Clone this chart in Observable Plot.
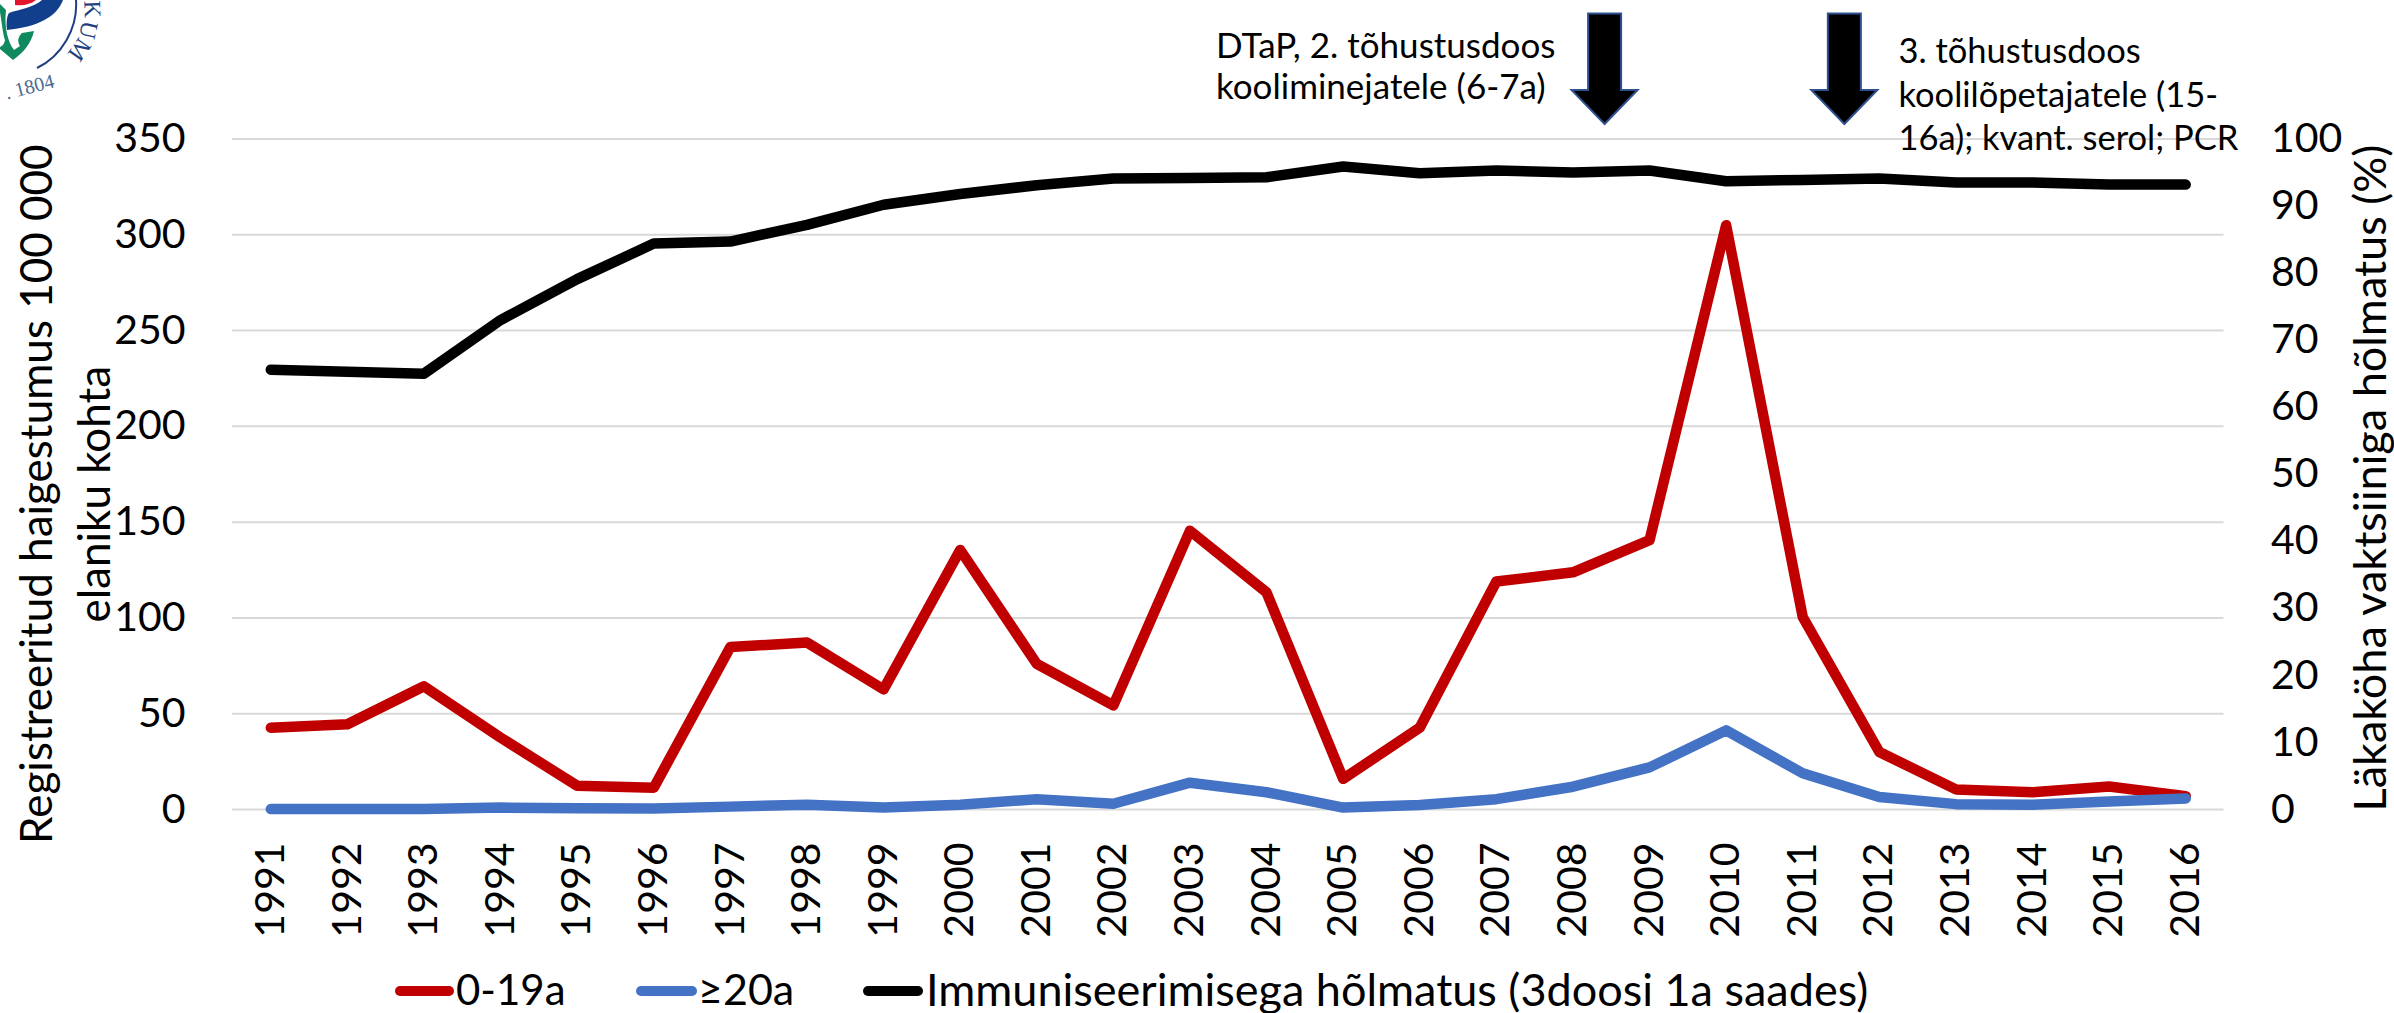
<!DOCTYPE html>
<html lang="et">
<head>
<meta charset="utf-8">
<title>Läkaköha haigestumus ja vaktsineerimine</title>
<script src="https://cdn.jsdelivr.net/npm/d3@7"></script>
<script src="https://cdn.jsdelivr.net/npm/@observablehq/plot@0.6"></script>
<style>
html,body{margin:0;padding:0;background:#fff;overflow:hidden;width:2394px;height:1013px}
#chart{position:relative;width:2394px;height:965px}
#chart svg{display:block;background:#fff}
#legend{position:relative;width:2394px;height:48px;font-family:Lato,sans-serif;color:#000;line-height:48px}
#legend .it{position:absolute;top:0;white-space:nowrap}
#legend .sw{position:absolute;top:21px;height:10px;border-radius:5px}
</style>
</head>
<body>
<div id="chart"></div>
<div id="legend"></div>
<script>
const years = [1991,1992,1993,1994,1995,1996,1997,1998,1999,2000,2001,2002,2003,2004,2005,2006,2007,2008,2009,2010,2011,2012,2013,2014,2015,2016];
const ageChildren = [42.7,44.5,64.3,37.5,12.4,11.4,84.8,87.2,62.7,135.5,76,54.3,145.5,113.3,16,42.7,119,123.8,140.6,305,100.5,30,10.5,9,12,7];
const ageAdults = [0.2,0.3,0.3,1,0.6,0.5,1.5,2.5,1.1,2.5,5.4,3,14,9,1,2.3,5.4,11.9,22,41.3,18.9,6.5,2.8,2.5,4.2,5.8];
const coverage = [65.6,65.3,65,73,79.1,84.4,84.7,87.2,90.2,91.8,93.1,94.1,94.2,94.3,95.9,94.9,95.3,95,95.3,93.7,93.9,94.1,93.5,93.5,93.2,93.2];

const leftTicks = [0,50,100,150,200,250,300,350];
const rightTicks = [0,10,20,30,40,50,60,70,80,90,100];
const secondaryFactor = 3.5;

const seriesNames = ["0-19a","≥20a","Immuniseerimisega hõlmatus (3doosi 1a saades)"];
const seriesColors = ["#C00000","#4472C4","#000000"];

const leftTitle = ["Registreeritud haigestumus 100 000","elaniku kohta"];
const rightTitle = "Läkaköha vaktsiiniga hõlmatus (%)";

const noteTexts = ["DTaP, 2. tõhustusdoos\nkooliminejatele (6-7a)","3. tõhustusdoos\nkoolilõpetajatele (15-\n16a); kvant. serol; PCR"];
const noteYears = [2003.34,2012.25];
const noteLevels = [388.5,374];
const noteLineHeights = [1.18,1.26];
const arrowYears = [2008.42,2011.55];

const FONT = "Lato, sans-serif";

function rows(values){ return years.map((y,i)=>({year:y,value:values[i]})); }

function arrowsMark(index, scales){
  const g = d3.create("svg:g").attr("fill","#000").attr("stroke","#2F528F").attr("stroke-width",2);
  for (const yr of arrowYears){
    const c = scales.x(yr);
    g.append("path").attr("d",`M${c-16.5},13.5H${c+16.5}V90H${c+33}L${c},124L${c-33},90H${c-16.5}Z`);
  }
  return g.node();
}

function logoMark(){
  const g = d3.create("svg:g").attr("text-anchor","start");
  g.append("path").attr("fill","#E3132C").attr("d","M15,0H36C31,4 24,6 15,5Z");
  g.append("path").attr("fill","#123F8C").attr("d","M7,30C6,22 7,16 9,13C20,9 33,8 42,0H63C57,17 37,27 7,30Z");
  g.append("path").attr("fill","#0F8A5F").attr("d","M0,12C2,24 3,35 5,40C4,46 0,47 0,47V49L13,60C23,53 31,44 34,31L22,33C18,37 17,41 20,46L14,50C8,42 4,28 6,10L0,4Z");
  g.append("path").attr("fill","none").attr("stroke","#1F3F7F").attr("stroke-width",2).attr("d","M76,0C78,28 62,56 37,68");
  const letters = [["K",93,9,88],["U",89,30,103],["M",80,50,125]];
  for (const [t,x,y,r] of letters){
    g.append("text").text(t).attr("transform",`translate(${x},${y}) rotate(${r})`)
      .attr("text-anchor","middle").attr("dy","0.35em")
      .attr("font-family","Liberation Serif, serif").attr("font-size",24).attr("fill","#1F3F7F");
  }
  g.append("text").text(". 1804").attr("transform","translate(7,99.6) rotate(-14.5)")
    .attr("font-family","Liberation Serif, serif").attr("font-size",20).attr("fill","#4E6A8F");
  return g.node();
}

const plot = Plot.plot({
  width: 2394,
  height: 965,
  marginLeft: 232,
  marginRight: 170.5,
  marginTop: 138.5,
  marginBottom: 156,
  style: {fontFamily: FONT, background: "#fff", color: "#000"},
  x: {domain: [1990.5, 2016.5], label: null},
  y: {domain: [0, 350], label: null},
  marks: [
    logoMark,
    Plot.gridY(leftTicks, {stroke: "#D9D9D9", strokeOpacity: 1, strokeWidth: 2}),
    Plot.axisY(leftTicks, {anchor: "left", tickSize: 0, tickPadding: 47, fontSize: 41, label: null}),
    Plot.axisY(rightTicks.map(v => v * secondaryFactor), {
      anchor: "right", tickSize: 0, tickPadding: 47, fontSize: 41, label: null,
      tickFormat: d => String(Math.round(d / secondaryFactor))
    }),
    Plot.axisX(years, {anchor: "bottom", tickSize: 0, tickPadding: 33, tickRotate: -90, fontSize: 41, tickFormat: "d", label: null}),
    Plot.line(rows(ageChildren), {x: "year", y: "value", stroke: seriesColors[0], strokeWidth: 10.5}),
    Plot.line(rows(ageAdults), {x: "year", y: "value", stroke: seriesColors[1], strokeWidth: 10.5}),
    Plot.line(rows(coverage.map(v => v * secondaryFactor)), {x: "year", y: "value", stroke: seriesColors[2], strokeWidth: 10.5}),
    Plot.text([leftTitle[0]], {y: () => 164.6, frameAnchor: "left", dx: -195, rotate: -90, textAnchor: "middle", fontSize: 44, fill: "#000"}),
    Plot.text([leftTitle[1]], {y: () => 164.6, frameAnchor: "left", dx: -137, rotate: -90, textAnchor: "middle", fontSize: 44, fill: "#000"}),
    Plot.text([rightTitle], {y: () => 173, frameAnchor: "right", dx: 147.5, rotate: -90, textAnchor: "middle", fontSize: 45, fill: "#000"}),
    Plot.text([0], {x: noteYears[0], y: noteLevels[0], text: () => noteTexts[0], textAnchor: "start", fontSize: 35, lineHeight: noteLineHeights[0], fill: "#000"}),
    Plot.text([1], {x: noteYears[1], y: noteLevels[1], text: () => noteTexts[1], textAnchor: "start", fontSize: 34.5, lineHeight: noteLineHeights[1], fill: "#000"}),
    arrowsMark
  ]
});
document.getElementById("chart").append(plot);

const legendSwatches = [[395,59],[636,61],[863,60]];
const legendLabels = [456,698,926];
const legendSizes = [42,43,45];
const legend = document.getElementById("legend");
seriesNames.forEach((name,i)=>{
  const s = document.createElement("div");
  s.className = "sw";
  s.style.left = legendSwatches[i][0]+"px";
  s.style.width = legendSwatches[i][1]+"px";
  s.style.background = seriesColors[i];
  legend.append(s);
  const t = document.createElement("div");
  t.className = "it";
  t.style.left = legendLabels[i]+"px";
  t.style.fontSize = legendSizes[i]+"px";
  t.textContent = name;
  legend.append(t);
});
</script>
</body>
</html>
